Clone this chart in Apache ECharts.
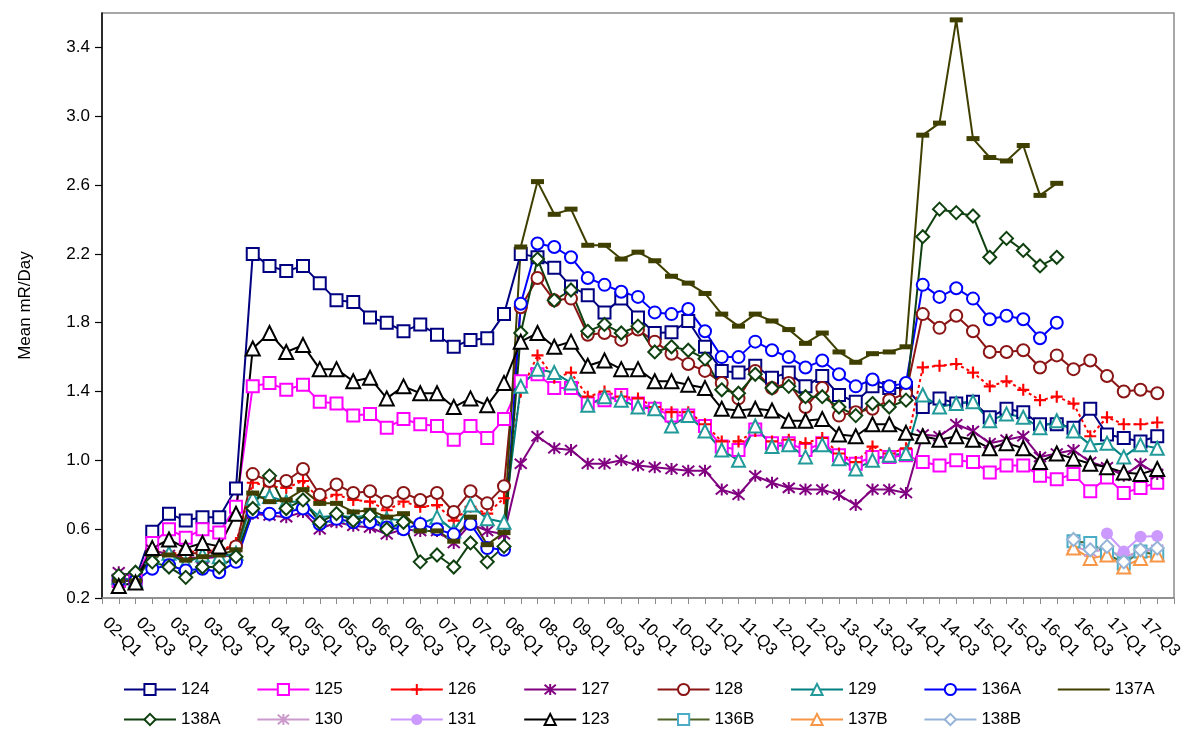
<!DOCTYPE html>
<html>
<head>
<meta charset="utf-8">
<script src="https://cdn.jsdelivr.net/npm/echarts@6/dist/echarts.min.js"></script>
<style>
html,body{margin:0;padding:0;background:#fff;}
#chart{width:1186px;height:730px;}
</style>
</head>
<body>
<div id="chart"></div>
<script>
const quarters = ['02-Q1','02-Q2','02-Q3','02-Q4','03-Q1','03-Q2','03-Q3','03-Q4',
'04-Q1','04-Q2','04-Q3','04-Q4','05-Q1','05-Q2','05-Q3','05-Q4',
'06-Q1','06-Q2','06-Q3','06-Q4','07-Q1','07-Q2','07-Q3','07-Q4',
'08-Q1','08-Q2','08-Q3','08-Q4','09-Q1','09-Q2','09-Q3','09-Q4',
'10-Q1','10-Q2','10-Q3','10-Q4','11-Q1','11-Q2','11-Q3','11-Q4',
'12-Q1','12-Q2','12-Q3','12-Q4','13-Q1','13-Q2','13-Q3','13-Q4',
'14-Q1','14-Q2','14-Q3','14-Q4','15-Q1','15-Q2','15-Q3','15-Q4',
'16-Q1','16-Q2','16-Q3','16-Q4','17-Q1','17-Q2','17-Q3'];

const s124 = [0.30,0.31,0.585,0.69,0.65,0.67,0.67,0.837,
2.20,2.13,2.10,2.13,2.03,1.93,1.92,1.83,1.80,
1.75,1.79,1.73,1.66,1.70,1.71,1.85,
2.20,2.18,2.12,2.01,1.96,1.86,1.94,1.83,1.74,1.745,
1.81,1.66,1.52,1.51,1.55,1.48,1.51,1.43,1.49,1.38,1.34,1.43,1.42,1.42,
1.31,1.36,1.33,1.34,1.25,1.30,1.28,1.21,1.21,1.19,1.30,1.15,1.13,1.11,1.14];
const s125 = [0.30,0.30,0.52,0.60,0.55,0.60,0.58,0.73,
1.43,1.45,1.41,1.44,1.34,1.33,1.26,1.27,1.19,
1.24,1.21,1.20,1.12,1.20,1.13,1.24,
1.46,1.50,1.42,1.42,1.33,1.35,1.38,1.33,1.30,1.26,
1.26,1.20,1.08,1.06,1.18,1.10,1.10,1.06,1.10,1.03,0.98,1.02,1.02,1.03,
0.99,0.97,1.00,0.99,0.93,0.97,0.97,0.91,0.89,0.92,0.82,0.90,0.81,0.84,0.87];
const s126 = [0.32,0.30,0.47,0.46,0.46,0.48,0.47,0.52,
0.87,0.85,0.84,0.88,0.77,0.80,0.77,0.76,0.71,
0.76,0.73,0.74,0.65,0.73,0.69,0.78,
1.40,1.61,1.48,1.51,1.37,1.40,1.37,1.36,1.31,1.28,
1.28,1.21,1.11,1.11,1.17,1.11,1.12,1.10,1.13,1.04,0.99,1.08,1.04,1.07,
1.54,1.55,1.56,1.51,1.43,1.46,1.41,1.35,1.37,1.33,1.14,1.25,1.21,1.21,1.22];
const s127 = [0.35,0.32,0.48,0.45,0.44,0.43,0.44,0.45,
0.69,0.68,0.67,0.70,0.60,0.64,0.62,0.61,0.57,
0.60,0.59,0.59,0.52,0.63,0.59,0.57,
0.98,1.14,1.07,1.06,0.98,0.98,1.00,0.97,0.96,0.95,
0.94,0.94,0.83,0.80,0.91,0.87,0.84,0.83,0.83,0.80,0.74,0.83,0.83,0.81,
1.15,1.14,1.21,1.17,1.10,1.12,1.14,1.02,1.04,1.06,0.99,0.96,0.91,0.98,0.92];
const s128 = [0.30,0.30,0.46,0.44,0.46,0.46,0.47,0.50,
0.92,0.88,0.88,0.95,0.80,0.86,0.81,0.82,0.76,
0.81,0.77,0.81,0.70,0.82,0.75,0.85,
1.89,2.06,1.93,1.94,1.73,1.74,1.70,1.76,1.69,1.62,
1.56,1.52,1.45,1.36,1.52,1.42,1.45,1.31,1.42,1.26,1.28,1.30,1.35,1.39,
1.85,1.77,1.84,1.75,1.63,1.63,1.64,1.54,1.61,1.53,1.58,1.49,1.40,1.41,1.39];
const s129 = [0.32,0.30,0.44,0.46,0.40,0.45,0.44,0.46,
0.78,0.79,0.76,0.76,0.67,0.68,0.67,0.68,0.66,
0.65,0.63,0.67,0.59,0.74,0.66,0.64,
1.43,1.53,1.51,1.45,1.32,1.37,1.35,1.31,1.30,1.20,
1.26,1.17,1.06,1.00,1.20,1.08,1.09,1.02,1.09,1.01,0.95,1.00,1.03,1.04,
1.38,1.31,1.33,1.34,1.23,1.27,1.25,1.19,1.23,1.17,1.09,1.10,1.02,1.09,1.07];
const s136A = [0.30,0.30,0.37,0.39,0.36,0.37,0.35,0.41,
0.70,0.69,0.70,0.72,0.63,0.66,0.64,0.64,0.61,
0.60,0.63,0.60,0.57,0.63,0.49,0.48,
1.91,2.26,2.24,2.18,2.06,2.02,1.98,1.95,1.86,1.85,
1.88,1.75,1.60,1.60,1.69,1.64,1.60,1.54,1.58,1.50,1.43,1.47,1.43,1.45,
2.02,1.95,2.00,1.94,1.82,1.84,1.82,1.71,1.80,null,null,null,null,null,null];
const s137A = [0.30,0.30,0.45,0.45,0.42,0.44,0.45,0.48,
0.81,0.76,0.77,0.83,0.75,0.75,0.70,0.71,0.67,
0.69,0.59,0.59,0.53,0.67,0.51,0.58,
2.24,2.62,2.43,2.46,2.25,2.25,2.17,2.21,2.16,2.07,
2.03,1.97,1.85,1.78,1.85,1.81,1.76,1.68,1.74,1.63,1.57,1.62,1.63,1.66,
2.89,2.96,3.56,2.87,2.76,2.74,2.83,2.54,2.61,null,null,null,null,null,null];
const s138A = [0.33,0.35,0.41,0.38,0.32,0.38,0.38,0.44,
0.72,0.91,0.72,0.77,0.64,0.69,0.65,0.68,0.60,
0.64,0.41,0.45,0.38,0.52,0.41,0.50,
1.74,2.17,1.93,1.99,1.75,1.79,1.74,1.78,1.63,1.66,
1.64,1.59,1.41,1.39,1.50,1.42,1.43,1.37,1.37,1.31,1.26,1.33,1.31,1.35,
2.30,2.46,2.44,2.42,2.18,2.29,2.22,2.13,2.18,null,null,null,null,null,null];
const s123 = [0.27,0.29,0.49,0.54,0.49,0.52,0.50,0.69,
1.65,1.74,1.63,1.67,1.53,1.53,1.46,1.48,1.36,
1.43,1.39,1.39,1.31,1.36,1.32,1.45,
1.69,1.74,1.66,1.69,1.55,1.58,1.53,1.53,1.46,1.46,
1.44,1.42,1.30,1.29,1.30,1.29,1.23,1.23,1.24,1.15,1.14,1.21,1.21,1.16,
1.14,1.12,1.14,1.12,1.07,1.10,1.07,0.99,1.04,1.01,0.98,0.96,0.93,0.92,0.95];
// series that start in 16-Q2
const lateStart = '16-Q2';
const s130  = [0.50,0.47,0.48,0.44,0.47,0.48];
const s131  = [null,null,0.575,0.47,0.556,0.56];
const s136B = [0.53,0.52,0.46,0.40,0.47,0.45];
const s137B = [0.49,0.43,0.45,0.38,0.43,0.45];
const s138B = [0.54,0.48,0.50,0.41,0.48,0.49];

const yTicks = {min: 0.2, max: 3.6, interval: 0.4};

function late(arr){
  const k = quarters.indexOf(lateStart);
  const out = [];
  for (let i = 0; i < k; i++) out.push(null);
  return out.concat(arr);
}
function pad(arr){ return [null].concat(arr, [null]); }

const FONT = '"Liberation Sans", Arial, sans-serif';
const PLUS = 'path://M4.1,0H5.9V10H4.1Z M0,4.1H10V5.9H0Z';
const STAR = 'path://M0,0L10,10M10,0L0,10M5,-1L5,11';
const DASH = 'path://M0,0H12V4H0Z';

function mk(name, data, lineColor, symbol, size, mColor, opts){
  opts = opts || {};
  let itemStyle;
  if (opts.filled) itemStyle = {color: mColor, borderWidth: 0, opacity: 1};
  else if (opts.stroke) itemStyle = {color: 'rgba(0,0,0,0)', borderColor: mColor, borderWidth: 2};
  else itemStyle = {color: '#ffffff', borderColor: mColor, borderWidth: 2};
  return {
    name: name, type: 'line', data: pad(data),
    symbol: symbol, symbolSize: size, showSymbol: true, showAllSymbol: true,
    lineStyle: {color: lineColor, width: 2, type: opts.dash || 'solid'},
    itemStyle: itemStyle,
    emphasis: {disabled: true},
    connectNulls: false, animation: false
  };
}

const series = [
  mk('124', s124, '#000080', 'rect', 12, '#000080'),
  mk('125', s125, '#FF00FF', 'rect', 12, '#FF00FF'),
  mk('126', s126, '#FF0000', PLUS, 12, '#FF0000', {filled: true, dash: [3, 3]}),
  mk('127', s127, '#800080', STAR, 12, '#800080', {stroke: true}),
  mk('128', s128, '#8B1414', 'circle', 12, '#8B1414'),
  mk('129', s129, '#008080', 'triangle', 13, '#239A9A'),
  mk('136A', s136A, '#0000FF', 'circle', 12, '#0000FF'),
  mk('137A', s137A, '#3F3F00', DASH, [13, 5], '#3F3F00', {filled: true}),
  mk('138A', s138A, '#0F400F', 'diamond', 13, '#0F400F'),
  mk('130', late(s130), '#CC99CC', STAR, 12, '#CC99CC', {stroke: true}),
  mk('131', late(s131), '#CC99FF', 'circle', 12, '#CC99FF', {filled: true}),
  mk('123', s123, '#000000', 'triangle', 14, '#000000'),
  mk('136B', late(s136B), '#4F6228', 'rect', 12, '#4BACC6'),
  mk('137B', late(s137B), '#F79646', 'triangle', 13, '#F79646'),
  mk('138B', late(s138B), '#95B3D7', 'diamond', 13, '#95B3D7')
];

const names = series.map(s => s.name);
const colX = [123, 256.4, 389.8, 523.2, 656.6, 790, 923.4, 1056.8];
const rowTop = [681, 711];
const legendItem = {
  '126': {lineStyle: {type: 'solid'}},
  '137A': {itemStyle: {opacity: 0}}
};
const legends = names.map((n, k) => ({
  data: [Object.assign({name: n}, legendItem[n] || {})], orient: 'horizontal',
  left: colX[k % 8], top: rowTop[Math.floor(k / 8)],
  itemWidth: 52, itemHeight: 14, padding: 0,
  selectedMode: false,
  textStyle: {fontSize: 17, color: '#000', fontFamily: FONT}
}));

const chart = echarts.init(document.getElementById('chart'), null, {renderer: 'canvas'});
chart.setOption({
  animation: false,
  backgroundColor: '#fff',
  textStyle: {fontFamily: FONT},
  grid: {left: 102, right: 12, top: 13, bottom: 132, show: true,
         borderColor: '#8a8a8a', borderWidth: 1.5, containLabel: false, outerBoundsMode: 'none'},
  legend: legends,
  xAxis: {
    type: 'category', boundaryGap: false,
    data: [''].concat(quarters, ['']),
    axisLine: {lineStyle: {color: '#8a8a8a', width: 1.5}},
    axisTick: {interval: 0, length: 6, lineStyle: {color: '#8a8a8a', width: 1}},
    axisLabel: {
      interval: 0,
      formatter: function(value, idx){ return idx % 2 === 1 ? value : ''; },
      rotate: -45, margin: 9, fontSize: 17, color: '#000', fontFamily: FONT,
      verticalAlign: 'top', lineHeight: 38
    },
    splitLine: {show: false}
  },
  yAxis: {
    type: 'value', min: yTicks.min, max: yTicks.max, interval: yTicks.interval,
    name: 'Mean mR/Day', nameLocation: 'middle', nameGap: 68,
    nameTextStyle: {fontSize: 17, color: '#000', fontFamily: FONT},
    axisLine: {show: true, lineStyle: {color: '#000', width: 1.5}},
    axisTick: {show: true, length: 7, lineStyle: {color: '#000', width: 1.2}},
    axisLabel: {fontSize: 17, color: '#000', margin: 12, fontFamily: FONT,
      showMaxLabel: false, formatter: v => v.toFixed(1)},
    splitLine: {show: false}
  },
  series: series
});
</script>
</body>
</html>
